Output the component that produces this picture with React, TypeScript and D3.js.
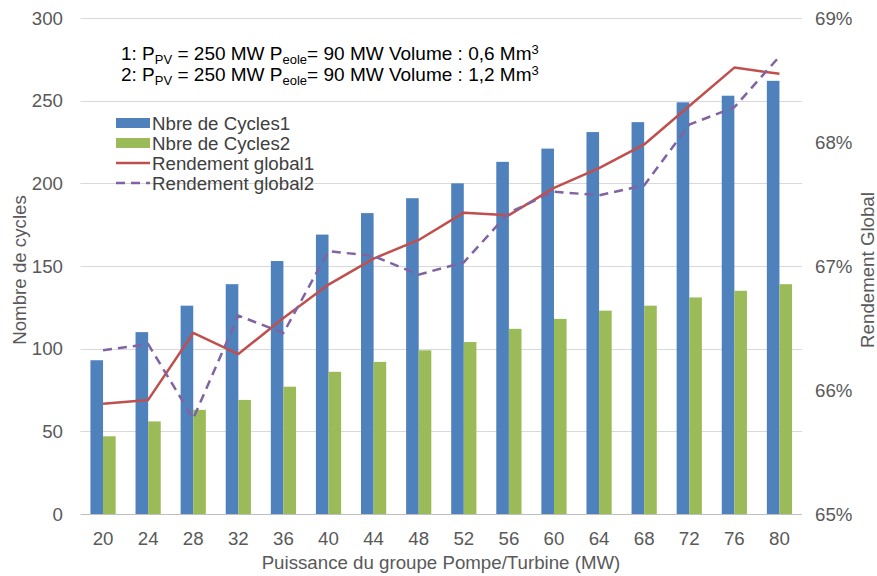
import React, { useEffect, useRef } from "react";
import * as d3 from "d3";

const categories = ["20", "24", "28", "32", "36", "40", "44", "48", "52", "56", "60", "64", "68", "72", "76", "80"];
const cycles1 = [93, 110, 126, 139, 153, 169, 182, 191, 200, 213, 221, 231, 237, 249, 253, 262];
const cycles2 = [47, 56, 63, 69, 77, 86, 92, 99, 104, 112, 118, 123, 126, 131, 135, 139];
const rendement1 = [65.89, 65.92, 66.46, 66.29, 66.58, 66.85, 67.06, 67.21, 67.43, 67.41, 67.63, 67.79, 67.98, 68.29, 68.6, 68.55];
const rendement2 = [66.32, 66.37, 65.77, 66.6, 66.46, 67.12, 67.08, 66.93, 67.03, 67.43, 67.6, 67.57, 67.65, 68.14, 68.28, 68.69];
const leftTicks = [0, 50, 100, 150, 200, 250, 300];
const rightTicks = [65, 66, 67, 68, 69];

const W = 877;
const H = 576;
const font = "'Liberation Sans', Arial, sans-serif";
const fs = 18.7;

const App = () => {
  const ref = useRef<SVGSVGElement>(null);

  useEffect(() => {
    const svg = d3.select(ref.current);
    svg.selectAll("*").remove();

    const left = 80.5,
      right = 802,
      top = 18,
      bottom = 514;

    let x = d3.scaleBand().domain(categories).range([left, right]);
    let y = d3.scaleLinear().domain([0, 300]).range([bottom, top]);
    let y2 = d3.scaleLinear().domain([65, 69]).range([bottom, top]);
    const bw = 12.6;

    // gridlines
    svg
      .append("g")
      .selectAll("line")
      .data(leftTicks)
      .enter()
      .append("line")
      .attr("x1", left)
      .attr("x2", right)
      .attr("y1", (d) => Math.round(y(d)) + 0.5)
      .attr("y2", (d) => Math.round(y(d)) + 0.5)
      .attr("stroke", (d) => (d === 0 ? "#bfbfbf" : "#d9d9d9"))
      .attr("stroke-width", 1);

    // left tick labels
    svg
      .append("g")
      .selectAll("text")
      .data(leftTicks)
      .enter()
      .append("text")
      .attr("x", 63)
      .attr("y", (d) => y(d))
      .attr("dy", "0.35em")
      .attr("text-anchor", "end")
      .attr("font-family", font)
      .attr("font-size", fs)
      .attr("fill", "#595959")
      .text((d) => d);

    // right tick labels
    svg
      .append("g")
      .selectAll("text")
      .data(rightTicks)
      .enter()
      .append("text")
      .attr("x", 815)
      .attr("y", (d) => y2(d))
      .attr("dy", "0.35em")
      .attr("font-family", font)
      .attr("font-size", fs)
      .attr("fill", "#595959")
      .text((d) => d + "%");

    // x tick labels
    svg
      .append("g")
      .selectAll("text")
      .data(categories)
      .enter()
      .append("text")
      .attr("x", (d) => (x(d) as number) + x.bandwidth() / 2)
      .attr("y", 538)
      .attr("dy", "0.35em")
      .attr("text-anchor", "middle")
      .attr("font-family", font)
      .attr("font-size", fs)
      .attr("fill", "#595959")
      .text((d) => d);

    // bars
    svg
      .append("g")
      .selectAll("rect")
      .data(cycles1)
      .enter()
      .append("rect")
      .attr("x", (d, i) => (x(categories[i]) as number) + x.bandwidth() / 2 - bw)
      .attr("y", (d) => y(d))
      .attr("width", bw)
      .attr("height", (d) => bottom - y(d))
      .attr("fill", "#4F81BD");

    svg
      .append("g")
      .selectAll("rect")
      .data(cycles2)
      .enter()
      .append("rect")
      .attr("x", (d, i) => (x(categories[i]) as number) + x.bandwidth() / 2)
      .attr("y", (d) => y(d))
      .attr("width", bw)
      .attr("height", (d) => bottom - y(d))
      .attr("fill", "#9BBB59");

    // lines
    let line = d3
      .line<number>()
      .x((d, i) => (x(categories[i]) as number) + x.bandwidth() / 2)
      .y((d) => y2(d));

    svg
      .append("path")
      .attr("d", line(rendement1))
      .attr("fill", "none")
      .attr("stroke", "#C0504D")
      .attr("stroke-width", 2.5)
      .attr("stroke-linejoin", "round");

    svg
      .append("path")
      .attr("d", line(rendement2))
      .attr("fill", "none")
      .attr("stroke", "#8064A2")
      .attr("stroke-width", 2.5)
      .attr("stroke-dasharray", "9,6");

    // legend
    const legend = [
      { name: "Nbre de Cycles1", color: "#4F81BD", type: "bar" },
      { name: "Nbre de Cycles2", color: "#9BBB59", type: "bar" },
      { name: "Rendement global1", color: "#C0504D", type: "line" },
      { name: "Rendement global2", color: "#8064A2", type: "dash" },
    ];
    let lg = svg
      .append("g")
      .selectAll("g")
      .data(legend)
      .enter()
      .append("g")
      .attr("transform", (d, i) => "translate(116," + (123 + i * 20) + ")");
    lg.filter((d) => d.type === "bar")
      .append("rect")
      .attr("x", 0)
      .attr("y", -5)
      .attr("width", 34)
      .attr("height", 10)
      .attr("fill", (d) => d.color);
    lg.filter((d) => d.type !== "bar")
      .append("line")
      .attr("x1", 0)
      .attr("x2", 34)
      .attr("y1", 0)
      .attr("y2", 0)
      .attr("stroke", (d) => d.color)
      .attr("stroke-width", 2.5)
      .attr("stroke-dasharray", (d) => (d.type === "dash" ? "9,6" : null));
    lg.append("text")
      .attr("x", 36)
      .attr("y", 0)
      .attr("dy", "0.35em")
      .attr("font-family", font)
      .attr("font-size", fs)
      .attr("fill", "#404040")
      .text((d) => d.name);

    // annotation
    const notes = [
      { label: "1", vol: "0,6" },
      { label: "2", vol: "1,2" },
    ];
    notes.forEach((n, i) => {
      let t = svg
        .append("text")
        .attr("x", 121)
        .attr("y", 60 + i * 21)
        .attr("font-family", font)
        .attr("font-size", 19)
        .attr("fill", "#000");
      t.append("tspan").text(n.label + ": P");
      t.append("tspan").attr("font-size", 13).attr("dy", 4).text("PV");
      t.append("tspan").attr("dy", -4).text(" = 250 MW P");
      t.append("tspan").attr("font-size", 13).attr("dy", 4).text("eole");
      t.append("tspan").attr("dy", -4).text("= 90 MW Volume : " + n.vol + " Mm");
      t.append("tspan").attr("font-size", 13).attr("dy", -6).text("3");
    });

    // axis titles
    svg
      .append("text")
      .attr("transform", "translate(26,270) rotate(-90)")
      .attr("text-anchor", "middle")
      .attr("font-family", font)
      .attr("font-size", fs)
      .attr("fill", "#595959")
      .text("Nombre de cycles");

    svg
      .append("text")
      .attr("transform", "translate(874,270) rotate(-90)")
      .attr("text-anchor", "middle")
      .attr("font-family", font)
      .attr("font-size", fs)
      .attr("fill", "#595959")
      .text("Rendement Global");

    svg
      .append("text")
      .attr("x", 441)
      .attr("y", 569)
      .attr("text-anchor", "middle")
      .attr("font-family", font)
      .attr("font-size", fs)
      .attr("fill", "#595959")
      .text("Puissance du groupe Pompe/Turbine (MW)");
  }, []);

  return (
    <svg
      ref={ref}
      width={W}
      height={H}
      style={{ position: "absolute", left: 0, top: 0, background: "#fff" }}
    />
  );
};

export default App;
